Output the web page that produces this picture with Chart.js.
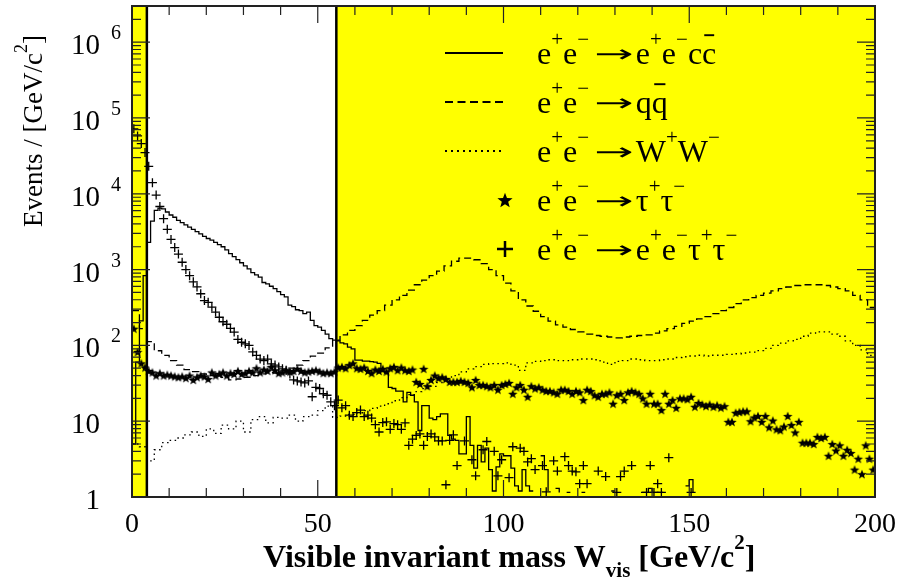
<!DOCTYPE html>
<html>
<head>
<meta charset="utf-8">
<title>Visible invariant mass</title>
<script src="https://cdn.jsdelivr.net/npm/chart.js@4.4.0/dist/chart.umd.min.js"></script>
<style>
  html, body { margin: 0; padding: 0; background: #fff; }
  #wrap { width: 905px; height: 586px; }
</style>
</head>
<body>
<div id="wrap"><canvas id="massChart" width="905" height="586"></canvas></div>
<script>
// axis ranges and the W_vis selection window (yellow = rejected)
const massMin = 0
const massMax = 200
const eventsMin = 1
const eventsMax = 3e6
const cutLow = 4
const cutHigh = 55

// e+e- -> e+e- c cbar, 1 GeV bins (0 = empty bin)
const ccbarEvents = [
  5, 60, 210, 830, 2290, 4365, 6030, 6460, 6310, 5750,
  5250, 4900, 4470, 4170, 3890, 3630, 3390, 3160, 2950, 2750,
  2570, 2450, 2290, 2140, 2000, 1820, 1620, 1480, 1350, 1230,
  1120, 1020, 912, 850, 794, 676, 646, 603, 562, 513,
  468, 437, 339, 324, 295, 288, 263, 275, 214, 182,
  174, 158, 141, 123, 117, 115, 108, 105, 95, 90,
  64, 64, 62, 62, 61, 60, 58, 45, 43, 28,
  27, 25, 25, 18, 24, 22, 18, 7.5, 16, 16,
  11, 10.5, 11.5, 12.5, 12.5, 6.5, 5.8, 5.6, 3.7, 3.7,
  11.5, 4.8, 2.4, 4.8, 2.9, 4.4, 2.3, 1.2, 2.5, 3.7,
  3.5, 3.5, 2.4, 1.4, 1.2, 2.3, 1.4, 1.2, 1.2, 0,
  3.5, 2.3, 1.2, 0, 1.3, 1.15, 0, 1.15, 1.15, 0,
  0, 1.15, 1.15, 0, 0, 0, 0, 0, 0, 1.2,
  1.2, 0, 0, 0, 0, 0, 0, 1.15, 1.15, 1.3,
  1.15, 1.15, 1.15, 1.15, 0, 0, 0, 0, 0, 1.4,
  1.7, 1.15, 0, 0, 0, 0, 0, 0, 0, 0,
  0, 0, 0, 0, 0, 0, 0, 0, 0, 0,
  0, 0, 0, 0, 0, 0, 0, 0, 0, 0,
  0, 0, 0, 0, 0, 0, 0, 0, 0, 0,
  0, 0, 0, 0, 0, 0, 0, 0, 0, 0
]

// e+e- -> q qbar, 2 GeV bins
const qqbarEvents = [
  288, 166, 112, 85, 74, 63, 55, 48, 45, 42,
  40, 42, 38, 35, 36, 38, 40, 42, 44, 43,
  46, 50, 55, 63, 72, 79, 93, 117, 138, 158,
  182, 214, 251, 288, 339, 398, 457, 537, 631, 724,
  832, 955, 1122, 1288, 1413, 1413, 1349, 1202, 1000, 832,
  661, 525, 398, 331, 282, 240, 209, 186, 174, 162,
  151, 141, 135, 132, 129, 126, 129, 132, 135, 138,
  145, 155, 166, 178, 195, 209, 224, 240, 263, 288,
  316, 355, 398, 427, 457, 490, 525, 562, 589, 617,
  631, 631, 631, 617, 589, 562, 525, 457, 398, 316
]

// e+e- -> W+W-, 2 GeV bins
const wwEvents = [
  5.0, 4.6, 3.0, 4.2, 5.2, 5.6, 6.0, 6.6, 7.2, 6.3,
  7.9, 6.9, 8.9, 7.9, 10, 7.2, 10.5, 11.5, 9.5, 11.2,
  11, 12, 10, 11.5, 12, 13.8, 15.8, 11.2, 11.7, 12.3,
  12.9, 13.8, 14.8, 15.8, 17, 18.6, 20.4, 22.4, 24.5, 26.9,
  28.8, 32.4, 36.3, 39.8, 44.7, 49, 52.5, 56.2, 57.5, 57.5,
  58.9, 55, 46.8, 58.9, 61.7, 63.1, 64.6, 63.1, 63.1, 64.6,
  66.1, 66.1, 64.6, 60.3, 56.2, 61.7, 63.1, 66.1, 64.6, 63.1,
  63.1, 64.6, 66.1, 69.2, 70.8, 72.4, 74.1, 72.4, 74.1, 74.1,
  75.9, 77.6, 79.4, 81.3, 85.1, 91.2, 100, 107, 115, 120,
  132, 145, 151, 151, 141, 132, 115, 100, 87, 74
]

// e+e- -> tau+tau-, 1 GeV bins
const tautauEvents = [
  166, 82, 58, 51, 46, 44, 40, 43, 40, 41,
  40, 39, 38, 39, 37, 40, 35, 38, 40, 39,
  36, 44, 40, 42, 44, 40, 43, 42, 46, 42,
  43, 46, 44, 50, 44, 48, 46, 52, 47, 43,
  44, 47, 45, 46, 49, 46, 44, 45, 46, 47,
  45, 43, 44, 43, 45, 51, 52, 50, 55, 58,
  50, 49, 51, 46, 43, 48, 46, 49, 45, 50,
  52, 47, 51, 47, 46, 48, 33, 31, 49, 29,
  35, 40, 37, 38, 36, 33, 33, 33, 34, 33,
  32, 28, 35, 30, 30, 29, 28, 30, 26, 30,
  31, 32, 23, 28, 30, 26, 21, 29, 27, 28,
  26, 25, 25, 24, 23, 26, 26, 25, 23, 25,
  24, 19, 26, 25, 22, 21, 23, 23, 24, 17,
  22, 23, 19, 24, 25, 24, 23, 20, 17, 23,
  17, 17, 14, 23, 17, 19, 15, 20, 20, 19.5,
  21, 15.5, 17.4, 16.6, 15.8, 16.6, 15.5, 16.2, 15.1, 15.8,
  9.8, 9.8, 12.9, 13.2, 13.5, 13.5, 10, 11.2, 11.7, 9.8,
  11.7, 8.3, 10.2, 7.8, 7.6, 8.5, 11.7, 8.9, 7.1, 9.8,
  5.2, 5.2, 5.2, 5.0, 6.2, 6.0, 6.2, 3.5, 5.0, 4.1,
  4.8, 3.5, 4.2, 3.8, 2.3, 3.2, 2.0, 4.8, 3.2, 2.3
]

// e+e- -> e+e- tau+tau-, 1 GeV bins (null = no entries)
const eetautauEvents = [
  72000, 58000, 46000, 35000, 23000, 14000, 9600, 6800, 4700, 3400,
  2500, 1950, 1600, 1250, 1000, 830, 690, 590, 480, 390,
  370, 320, 275, 235, 205, 190, 168, 150, 120, 110,
  105, 100, 82, 74, 66, 63, 66, 57, 55, 52,
  49, 47, 42, 35, 34, 33, 32, 34, 21, 28,
  27, 23, 22, 18, 16, 19, 15, 16, 12, 11.5,
  13, 14, 11.5, 12, 11, 9, 7.2, 9.6, 9.8, 7.8,
  9.3, 9.0, 7.8, 9.5, 4.8, 5.8, 6.5, 6.8, 4.8, 6.3,
  6.8, 6.2, 5.5, 5.5, 1.45, 5.6, 6.6, 2.6, null, 5.5,
  null, 3.1, 1.9, null, 4.2, 5.4, null, 4.0, 1.9, 3.1,
  null, 1.8, 4.6, null, 4.4, 4.0, 2.9, 3.2, 2.3, null,
  2.6, 1.17, null, 3.0, 2.2, null, 3.4, 2.6, 2.2, 2.15,
  1.5, 2.6, 1.5, null, null, 2.2, null, 1.86, null, null,
  1.15, 1.86, 2.2, null, 2.6, null, null, null, 1.15, 2.6,
  1.15, 1.5, 1.15, null, 3.3, null, null, null, null, null,
  1.15, null, null, null, null, null, null, null, null, null,
  null, null, null, null, null, null, null, null, null, null,
  null, null, null, null, null, null, null, null, null, null,
  null, null, null, null, null, null, null, null, null, null,
  null, null, null, null, null, null, null, null, null, null
]

const xTickValues = [0, 50, 100, 150, 200]
const xTickLabels = ['0', '50', '100', '150', '200']
const yTickValues = [1, 10, 100, 1000, 10000, 100000, 1000000]
const yTickMantissa = ['1', '10', '10', '10', '10', '10', '10']
const yTickPower = ['', '', '2', '3', '4', '5', '6']

const serif = '"Liberation Serif", "Times New Roman", serif'

// histogram drawn as steps: one point per left bin edge plus the closing edge
function stepPoints(values, width) {
    const pts = values.map((v, i) => ({ x: i * width, y: v }))
    pts.push({ x: values.length * width, y: values[values.length - 1] })
    return pts
}

function centerPoints(values, width) {
    return values.map((v, i) => ({ x: (i + 0.5) * width, y: v }))
}

function starPath(g, cx, cy, R, r) {
    g.beginPath()
    for (let k = 0; k < 10; k++) {
        const ang = -Math.PI / 2 + k * Math.PI / 5
        const rad = k % 2 ? r : R
        g.lineTo(cx + rad * Math.cos(ang), cy + rad * Math.sin(ang))
    }
    g.closePath()
}

function starImage(R) {
    const c = document.createElement('canvas')
    c.width = c.height = Math.ceil(R * 2 + 2)
    const g = c.getContext('2d')
    starPath(g, c.width / 2, c.height / 2 + R * 0.1, R, R * 0.42)
    g.fillStyle = '#000'
    g.fill()
    return c
}

// text with superscripts, subscripts, overbars and a stretched arrow
function drawRich(ctx, parts, x, y, size, weight) {
    let cx = x
    for (const [text, kind] of parts) {
        if (kind === 'arrow') {
            // thin DejaVu arrow glyph, stretched to a long reaction arrow
            ctx.font = `${Math.round(size * 0.75)}px "DejaVu Sans"`
            const m = ctx.measureText(text)
            const ink = m.actualBoundingBoxLeft + m.actualBoundingBoxRight
            const target = size * 1.1
            const s = target / ink
            const left = cx + size * 0.22
            ctx.save()
            ctx.translate(left + m.actualBoundingBoxLeft * s, y - size * 0.05)
            ctx.scale(s, 1)
            ctx.fillText(text, 0, 0)
            ctx.restore()
            cx = left + target + size * 0.14
            continue
        }
        const small = kind === 'sup' || kind === 'sub'
        const fs = small ? Math.round(size * 0.66) : size
        ctx.font = `${weight || 'normal'} ${fs}px ${serif}`
        const dy = kind === 'sup' ? -size * 0.56 : kind === 'sub' ? size * 0.3 : 0
        ctx.fillText(text, cx, y + dy)
        const w = ctx.measureText(text).width
        if (kind === 'bar') {
            ctx.save()
            ctx.lineWidth = size * 0.06
            ctx.beginPath()
            ctx.moveTo(cx + w * 0.15, y - size * 0.9)
            ctx.lineTo(cx + w * 0.85, y - size * 0.9)
            ctx.stroke()
            ctx.restore()
        }
        cx += w
    }
    return cx - x
}

const arrow = ['\u2192', 'arrow']
const legendRows = [
    { style: 'solid', parts: [['e'], ['+', 'sup'], ['e'], ['\u2212', 'sup'], arrow, ['e'], ['+', 'sup'], ['e'], ['\u2212', 'sup'], ['c'], ['c', 'bar']] },
    { style: 'dashed', parts: [['e'], ['+', 'sup'], ['e'], ['\u2212', 'sup'], arrow, ['q'], ['q', 'bar']] },
    { style: 'dotted', parts: [['e'], ['+', 'sup'], ['e'], ['\u2212', 'sup'], arrow, ['W'], ['+', 'sup'], ['W'], ['\u2212', 'sup']] },
    { style: 'star', parts: [['e'], ['+', 'sup'], ['e'], ['\u2212', 'sup'], arrow, ['\u03c4'], ['+', 'sup'], ['\u03c4'], ['\u2212', 'sup']] },
    { style: 'plus', parts: [['e'], ['+', 'sup'], ['e'], ['\u2212', 'sup'], arrow, ['e'], ['+', 'sup'], ['e'], ['\u2212', 'sup'], ['\u03c4'], ['+', 'sup'], ['\u03c4'], ['\u2212', 'sup']] }
]

const starMarker = starImage(5)
const starLegend = starImage(8)

// yellow bands outside the selection window
const cutBands = {
    id: 'cutBands',
    beforeDatasetsDraw(chart) {
        const { ctx, chartArea: a, scales: { x } } = chart
        ctx.save()
        ctx.fillStyle = '#ffff00'
        const l0 = x.getPixelForValue(massMin), l1 = x.getPixelForValue(cutLow)
        const r0 = x.getPixelForValue(cutHigh), r1 = x.getPixelForValue(massMax)
        ctx.fillRect(l0, a.top, l1 - l0, a.bottom - a.top)
        ctx.fillRect(r0, a.top, r1 - r0, a.bottom - a.top)
        ctx.restore()
    }
}

// frame, inward ticks, cut lines, labels and legend
const frameAxes = {
    id: 'frameAxes',
    afterDatasetsDraw(chart) {
        const { ctx, chartArea: a, scales: { x, y } } = chart
        ctx.save()
        ctx.strokeStyle = '#000'

        ctx.lineWidth = 2.5
        for (const cut of [cutLow, cutHigh]) {
            const px = x.getPixelForValue(cut)
            ctx.beginPath()
            ctx.moveTo(px, a.bottom)
            ctx.lineTo(px, a.top)
            ctx.stroke()
        }

        ctx.lineWidth = 1.2
        ctx.strokeStyle = '#222'
        ctx.beginPath()
        for (let v = massMin; v <= massMax; v += 10) {
            const px = x.getPixelForValue(v)
            const len = xTickValues.includes(v) ? 17 : 9
            ctx.moveTo(px, a.bottom); ctx.lineTo(px, a.bottom - len)
            ctx.moveTo(px, a.top); ctx.lineTo(px, a.top + len)
        }
        for (let d = 0; d <= 6; d++) {
            for (let m = 1; m <= 9; m++) {
                const v = m * Math.pow(10, d)
                if (v > eventsMax) break
                const py = y.getPixelForValue(v)
                const len = m === 1 ? 18 : 9
                ctx.moveTo(a.left, py); ctx.lineTo(a.left + len, py)
                ctx.moveTo(a.right, py); ctx.lineTo(a.right - len, py)
            }
        }
        ctx.stroke()

        ctx.lineWidth = 2
        ctx.strokeRect(a.left, a.top, a.right - a.left, a.bottom - a.top)
        ctx.restore()
    },
    afterDraw(chart) {
        const { ctx, scales: { x, y } } = chart
        ctx.save()
        ctx.fillStyle = '#000'
        ctx.strokeStyle = '#000'

        ctx.font = `28px ${serif}`
        ctx.textAlign = 'center'
        ctx.textBaseline = 'alphabetic'
        xTickValues.forEach((v, i) => {
            ctx.fillText(xTickLabels[i], x.getPixelForValue(v), 532)
        })

        yTickValues.forEach((v, i) => {
            const py = y.getPixelForValue(v)
            ctx.font = `29px ${serif}`
            ctx.textAlign = 'right'
            ctx.fillText(yTickMantissa[i], 100, py + 12)
            if (yTickPower[i]) {
                ctx.font = `20px ${serif}`
                ctx.textAlign = 'left'
                ctx.fillText(yTickPower[i], 111, py - 3)
            }
        })

        ctx.textAlign = 'left'
        drawRich(ctx, [['Visible invariant mass W'], ['vis', 'sub'], [' [GeV/c'], ['2', 'sup'], [']']], 263, 567, 32, 'bold')

        ctx.save()
        ctx.translate(42, 227)
        ctx.rotate(-Math.PI / 2)
        drawRich(ctx, [['Events / [GeV/c'], ['2', 'sup'], [']']], 0, 0, 27)
        ctx.restore()

        // legend
        const symX0 = 445, symX1 = 503, textX = 537
        legendRows.forEach((row, i) => {
            const base = 64 + i * 49
            const sy = base - 11
            ctx.save()
            ctx.lineWidth = 2
            if (row.style === 'solid' || row.style === 'dashed' || row.style === 'dotted') {
                ctx.setLineDash(row.style === 'dashed' ? [8, 4.5] : row.style === 'dotted' ? [2, 4] : [])
                ctx.beginPath()
                ctx.moveTo(symX0, sy)
                ctx.lineTo(symX1, sy)
                ctx.stroke()
            } else if (row.style === 'star') {
                ctx.drawImage(starLegend, symX1 + 2 - starLegend.width / 2, sy - starLegend.height / 2)
            } else {
                ctx.lineWidth = 2.5
                ctx.beginPath()
                ctx.moveTo(symX1 + 2 - 8, sy); ctx.lineTo(symX1 + 2 + 8, sy)
                ctx.moveTo(symX1 + 2, sy - 8); ctx.lineTo(symX1 + 2, sy + 8)
                ctx.stroke()
            }
            ctx.restore()
            drawRich(ctx, row.parts, textX, base, 32)
        })
        ctx.restore()
    }
}

new Chart(document.getElementById('massChart'), {
    type: 'line',
    data: {
        datasets: [
            {
                label: 'ccbar',
                data: stepPoints(ccbarEvents, 1),
                stepped: 'before',
                borderColor: '#000',
                borderWidth: 1.3,
                pointRadius: 0
            },
            {
                label: 'qqbar',
                data: stepPoints(qqbarEvents, 2),
                stepped: 'before',
                borderColor: '#000',
                borderWidth: 1.3,
                borderDash: [7, 4],
                pointRadius: 0
            },
            {
                label: 'WW',
                data: stepPoints(wwEvents, 2),
                stepped: 'before',
                borderColor: '#000',
                borderWidth: 1.3,
                borderDash: [1.5, 3.5],
                pointRadius: 0
            },
            {
                label: 'tautau',
                data: centerPoints(tautauEvents, 1),
                showLine: false,
                pointStyle: starMarker,
                pointRadius: 5
            },
            {
                label: 'eetautau',
                data: centerPoints(eetautauEvents, 1),
                showLine: false,
                pointStyle: 'cross',
                pointRadius: 4.5,
                borderColor: '#000',
                borderWidth: 1.3
            }
        ]
    },
    options: {
        responsive: false,
        animation: false,
        devicePixelRatio: 1,
        layout: { padding: { left: 132, right: 30, top: 4, bottom: 89 } },
        plugins: {
            legend: { display: false },
            tooltip: { enabled: false }
        },
        scales: {
            x: { type: 'linear', min: massMin, max: massMax, display: false },
            y: { type: 'logarithmic', min: eventsMin, max: eventsMax, display: false }
        }
    },
    plugins: [cutBands, frameAxes]
})
</script>
</body>
</html>
